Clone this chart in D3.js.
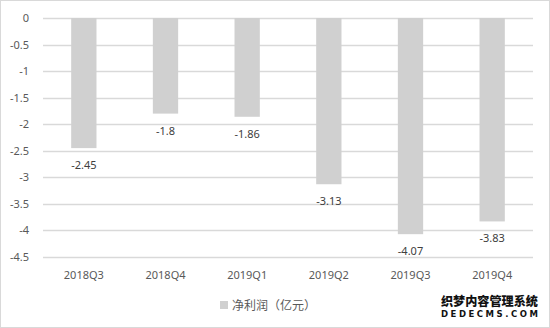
<!DOCTYPE html>
<meta charset="utf-8">
<style>
  body { margin: 0; background: #fff; }
  text { font-family: "Noto Sans", "Noto Sans CJK SC", sans-serif; }
</style>
<svg width="550" height="328"></svg>
<script src="https://d3js.org/d3.v7.min.js"></script>
<script>

var quarters = ["2018Q3", "2018Q4", "2019Q1", "2019Q2", "2019Q3", "2019Q4"];
var netProfit = [-2.45, -1.8, -1.86, -3.13, -4.07, -3.83];
var yTicks = [0, -0.5, -1, -1.5, -2, -2.5, -3, -3.5, -4, -4.5];
var legendLabel = "净利润（亿元）";

var svg = d3.select("svg"),
    width = +svg.attr("width"),
    height = +svg.attr("height");

var margin = {top: 18, right: 17, bottom: 71, left: 43};

// outer frame
svg.append("rect")
    .attr("x", 0.5).attr("y", 0.5)
    .attr("width", width - 1).attr("height", height - 1)
    .attr("fill", "#fff").attr("stroke", "#d9d9d9");

var x = d3.scaleBand()
    .domain(quarters)
    .range([margin.left, width - margin.right])
    .paddingInner(0.69)
    .paddingOuter(0.345);

var y = d3.scaleLinear()
    .domain([0, -4.5])
    .range([margin.top, height - margin.bottom]);

// gridlines
svg.append("g")
    .selectAll("line")
    .data(yTicks)
    .enter().append("line")
    .attr("x1", margin.left)
    .attr("x2", width - margin.right)
    .attr("y1", function(d) { return Math.round(y(d)) + 0.5; })
    .attr("y2", function(d) { return Math.round(y(d)) + 0.5; })
    .attr("stroke", "#d9d9d9")
    .attr("stroke-width", 1.5);

// y axis labels
var yAxis = svg.append("g")
    .attr("transform", "translate(" + (margin.left - 11) + ",0)")
    .call(d3.axisLeft(y).tickValues(yTicks).tickSize(0).tickFormat(function(d) { return d; }));
yAxis.select(".domain").remove();
yAxis.selectAll("text")
    .attr("fill", "#595959")
    .style("font-size", "11px");

// bars
svg.append("g")
    .selectAll("rect")
    .data(netProfit)
    .enter().append("rect")
    .attr("x", function(d, i) { return x(quarters[i]); })
    .attr("y", y(0))
    .attr("width", x.bandwidth())
    .attr("height", function(d) { return y(d) - y(0); })
    .attr("fill", "#d0d0d0");

// value labels
svg.append("g")
    .selectAll("text")
    .data(netProfit)
    .enter().append("text")
    .attr("x", function(d, i) { return x(quarters[i]) + x.bandwidth() / 2; })
    .attr("y", function(d) { return y(d) + 21; })
    .attr("text-anchor", "middle")
    .attr("fill", "#404040")
    .style("font-size", "11px")
    .text(function(d) { return d; });

// x axis labels
var xAxis = svg.append("g")
    .attr("transform", "translate(0," + (height - margin.bottom + 11) + ")")
    .call(d3.axisBottom(x).tickSize(0));
xAxis.select(".domain").remove();
xAxis.selectAll("text")
    .attr("fill", "#595959")
    .style("font-size", "11px");

// legend
var legend = svg.append("g").attr("transform", "translate(220,306)");
legend.append("rect")
    .attr("x", 0).attr("y", -5)
    .attr("width", 8).attr("height", 8)
    .attr("fill", "#d0d0d0");
legend.append("text")
    .attr("x", 12).attr("y", 4)
    .attr("fill", "#595959")
    .style("font-size", "12px")
    .style("font-family", "'Noto Sans CJK SC', sans-serif")
    .text(legendLabel);

// watermark
svg.append("text")
    .attr("x", 441).attr("y", 306)
    .attr("textLength", 97)
    .attr("lengthAdjust", "spacingAndGlyphs")
    .style("font-family", "'Noto Sans CJK SC', sans-serif")
    .style("font-size", "12.5px")
    .style("font-weight", "900")
    .style("paint-order", "stroke")
    .attr("stroke", "#fff").attr("stroke-width", 2)
    .attr("fill", "#111")
    .text("织梦内容管理系统");
svg.append("text")
    .attr("x", 441).attr("y", 317)
    .attr("textLength", 97)
    .attr("lengthAdjust", "spacing")
    .style("font-family", "'DejaVu Sans', sans-serif")
    .style("font-size", "8.5px")
    .style("font-weight", "bold")
    .style("paint-order", "stroke")
    .attr("stroke", "#fff").attr("stroke-width", 2)
    .attr("fill", "#111")
    .text("DEDECMS.COM");

</script>
